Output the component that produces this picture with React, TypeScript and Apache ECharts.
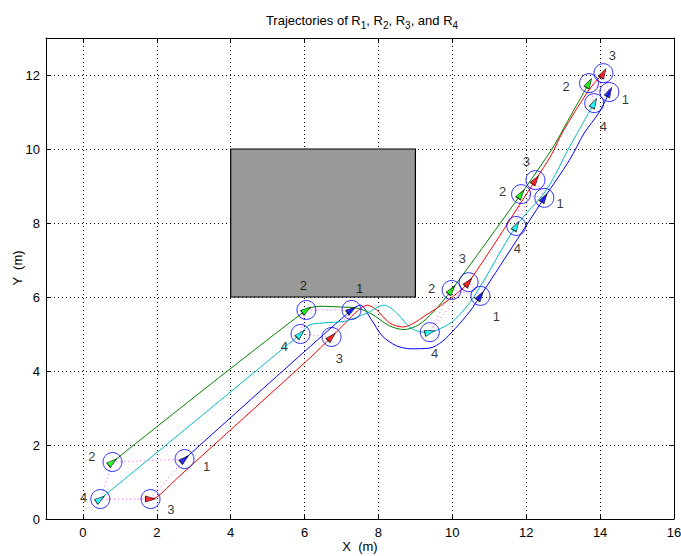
import React, { useEffect, useRef } from 'react';
import * as echarts from 'echarts';

const FONT = '"Liberation Sans", Arial, Helvetica, sans-serif';

const xTicks = [0, 2, 4, 6, 8, 10, 12, 14, 16];
const yTicks = [0, 2, 4, 6, 8, 10, 12];
const xRange = [-1, 16];
const yRange = [0, 13];

const obstacleX = [4, 9];
const obstacleY = [6, 10];

// Trajectories [x, y]
const r1Path = [
  [2.75, 1.62], [7.27, 5.65], [7.51, 5.78], [7.8, 5.4], [8.1, 4.95], [8.49, 4.68], [8.89, 4.6],
  [9.39, 4.62], [9.73, 4.8], [10.08, 5.15], [10.48, 5.62], [10.76, 6.03], [12.49, 8.68],
  [13.17, 9.7], [13.57, 10.43], [13.98, 11.0], [14.25, 11.54],
];
const r2Path = [
  [0.8, 1.54], [6.05, 5.65], [6.42, 5.75], [6.95, 5.73], [7.41, 5.7], [7.8, 5.55], [8.3, 5.22],
  [8.69, 5.12], [9.09, 5.25], [9.49, 5.6], [9.98, 6.19], [11.86, 8.78], [12.44, 9.62],
  [12.76, 10.1], [13.09, 10.7], [13.7, 11.78],
];
const r3Path = [
  [1.83, 0.54], [2.01, 0.6], [2.26, 0.82], [2.55, 1.1], [6.14, 4.35], [6.73, 4.92], [7.11, 5.3],
  [7.46, 5.65], [7.7, 5.78], [7.95, 5.65], [8.3, 5.3], [8.65, 5.19], [9.38, 5.57],
  [10.0, 6.0], [10.44, 6.4], [12.25, 9.16], [12.68, 9.84], [12.97, 10.43], [13.7, 11.6],
  [14.09, 12.05],
];
const r4Path = [
  [0.47, 0.54], [5.89, 5.0], [6.12, 5.24], [6.51, 5.3], [7.11, 5.35], [7.7, 5.57], [8.15, 5.78],
  [8.49, 5.57], [8.84, 5.19], [9.19, 5.05], [9.39, 5.05], [9.78, 5.2], [10.08, 5.4], [10.58, 6.0],
  [11.73, 7.92], [12.55, 8.9], [13.17, 10.05], [13.84, 11.24],
];

// Snapshot poses [x, y, heading deg]
const poseR1 = [[2.75, 1.62, 40], [7.27, 5.65, 35], [10.76, 6.03, 55], [12.49, 8.68, 57], [14.25, 11.54, 62]];
const poseR2 = [[0.8, 1.54, 38], [6.05, 5.65, 35], [9.98, 6.19, 52], [11.86, 8.78, 55], [13.7, 11.78, 60]];
const poseR3 = [[1.83, 0.54, 0], [6.73, 4.92, 45], [10.44, 6.4, 50], [12.25, 9.16, 55], [14.09, 12.05, 60]];
const poseR4 = [[0.47, 0.54, 35], [5.89, 5.0, 45], [9.39, 5.05, 15], [11.73, 7.92, 60], [13.84, 11.24, 62]];

// Label positions
const labelR1 = [[3.35, 1.43], [7.49, 6.22], [11.19, 5.46], [12.92, 8.54], [14.68, 11.35]];
const labelR2 = [[0.24, 1.7], [5.97, 6.3], [9.44, 6.24], [11.36, 8.84], [13.08, 11.68]];
const labelR3 = [[2.38, 0.27], [6.94, 4.35], [10.27, 7.03], [12.0, 9.65], [14.33, 12.54]];
const labelR4 = [[0.02, 0.57], [5.45, 4.65], [9.52, 4.46], [11.76, 7.3], [14.09, 10.6]];

const robotNames = ['1', '2', '3', '4'];
const lineColors = ['#0000ff', '#008000', '#ff0000', '#00bfbf'];
const markerColors = ['#0000ff', '#00ff00', '#ff0000', '#00ffff'];

export default function App() {
  const ref = useRef<HTMLDivElement>(null);
  useEffect(() => {
    if (!ref.current) return;
    const chart = echarts.init(ref.current, undefined, { renderer: 'svg' });
    const paths = [r1Path, r2Path, r3Path, r4Path];
    const poses = [poseR1, poseR2, poseR3, poseR4];
    const labels = [labelR1, labelR2, labelR3, labelR4];

    const series: any[] = [];
    series.push({
      type: 'line',
      data: [],
      silent: true,
      z: 5,
      markArea: {
        silent: true,
        itemStyle: { color: '#999999', borderColor: '#000', borderWidth: 1.2, opacity: 1 },
        data: [[{ coord: [obstacleX[0], obstacleY[0]] }, { coord: [obstacleX[1], obstacleY[1]] }]],
      },
    });
    for (let i = 0; i < poseR1.length; i++) {
      const order = [poseR2[i], poseR1[i], poseR3[i], poseR4[i], poseR2[i]];
      series.push({
        type: 'line',
        data: order.map((p) => [p[0], p[1]]),
        showSymbol: false,
        silent: true,
        z: 1,
        lineStyle: { color: '#ff00ff', width: 1, type: [1, 3], opacity: 0.7 },
      });
    }
    paths.forEach((p, k) => {
      series.push({
        type: 'line',
        data: p,
        showSymbol: false,
        smooth: 0.3,
        silent: true,
        z: 2,
        lineStyle: { color: lineColors[k], width: 1 },
      });
    });
    poses.forEach((p) => {
      series.push({
        type: 'scatter',
        data: p.map((q) => [q[0], q[1]]),
        symbol: 'circle',
        symbolSize: 19,
        silent: true,
        z: 3,
        itemStyle: { color: 'rgba(0,0,0,0)', borderColor: '#0000ff', borderWidth: 1 },
      });
    });
    poses.forEach((p, k) => {
      series.push({
        type: 'scatter',
        data: p,
        symbol: 'triangle',
        symbolSize: [6, 10],
        symbolRotate: (v: number[]) => v[2] - 90,
        silent: true,
        z: 4,
        itemStyle: { color: markerColors[k], borderColor: '#000', borderWidth: 0.8 },
      });
    });
    labels.forEach((p, k) => {
      series.push({
        type: 'scatter',
        data: p,
        symbolSize: 1,
        itemStyle: { color: 'rgba(0,0,0,0)' },
        silent: true,
        z: 6,
        label: {
          show: true,
          position: 'inside',
          formatter: robotNames[k],
          color: '#000',
          fontSize: 13,
          fontFamily: FONT,
        },
      });
    });

    const axisCommon = {
      type: 'value',
      axisLine: { show: true, onZero: false, lineStyle: { color: '#000', width: 1 } },
    };

    chart.setOption({
      animation: false,
      backgroundColor: '#ffffff',
      title: {
        text: '{a|Trajectories of R}{b|1}{a|, R}{b|2}{a|, R}{b|3}{a|, and R}{b|4}',
        left: 357,
        top: 5,
        textAlign: 'center',
        textStyle: {
          fontWeight: 'normal',
          rich: {
            a: { fontSize: 13, fontWeight: 'normal', fontFamily: FONT, color: '#000', lineHeight: 20 },
            b: { fontSize: 10, fontWeight: 'normal', fontFamily: FONT, color: '#000', lineHeight: 11, verticalAlign: 'bottom' },
          },
        },
      },
      grid: { left: 46, right: 7, top: 38, bottom: 37, containLabel: false, outerBoundsMode: 'none' },
      xAxis: [
        {
          ...axisCommon,
          min: xRange[0],
          max: xRange[1],
          position: 'bottom',
          axisTick: { show: true, inside: true, length: 5, customValues: xTicks, lineStyle: { color: '#000' } },
          axisLabel: { customValues: xTicks, color: '#000', fontSize: 13, fontFamily: FONT, margin: 7 },
          splitLine: { show: true, lineStyle: { color: '#000', width: 1, type: [1, 3] } },
        },
        {
          ...axisCommon,
          min: xRange[0],
          max: xRange[1],
          position: 'top',
          axisTick: { show: true, inside: true, length: 5, customValues: xTicks, lineStyle: { color: '#000' } },
          axisLabel: { show: false },
          splitLine: { show: false },
        },
      ],
      yAxis: [
        {
          ...axisCommon,
          min: yRange[0],
          max: yRange[1],
          position: 'left',
          axisTick: { show: true, inside: true, length: 5, customValues: yTicks, lineStyle: { color: '#000' } },
          axisLabel: { customValues: yTicks, color: '#000', fontSize: 13, fontFamily: FONT, margin: 6 },
          splitLine: { show: true, lineStyle: { color: '#000', width: 1, type: [1, 3] } },
        },
        {
          ...axisCommon,
          min: yRange[0],
          max: yRange[1],
          position: 'right',
          axisTick: { show: true, inside: true, length: 5, customValues: yTicks, lineStyle: { color: '#000' } },
          axisLabel: { show: false },
          splitLine: { show: false },
        },
      ],
      graphic: [
        {
          type: 'text',
          x: 17,
          y: 268,
          rotation: Math.PI / 2,
          style: {
            text: 'Y  (m)',
            fill: '#000',
            fontSize: 13,
            fontFamily: FONT,
            align: 'center',
            verticalAlign: 'middle',
          },
        },
        {
          type: 'text',
          x: 360,
          y: 546,
          style: {
            text: 'X  (m)',
            fill: '#000',
            fontSize: 13,
            fontFamily: FONT,
            align: 'center',
            verticalAlign: 'middle',
          },
        },
      ],
      series,
    });
    return () => chart.dispose();
  }, []);
  return <div ref={ref} style={{ width: 681, height: 556, position: 'absolute', left: 0, top: 0 }} />;
}
